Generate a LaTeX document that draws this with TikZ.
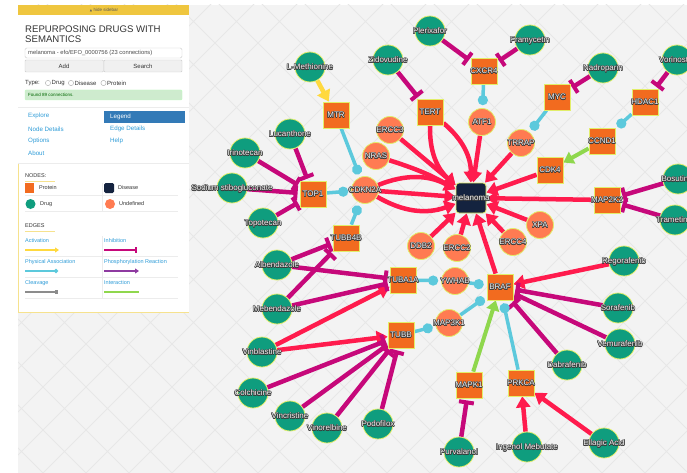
\documentclass[tikz,border=0pt]{standalone}
\usepackage{fontspec}
\setmainfont{Liberation Sans}
\newfontfamily\djv{DejaVu Sans}
\usetikzlibrary{arrows.meta}
\definecolor{protc}{HTML}{F26B1F}
\definecolor{drugc}{HTML}{0F9D7E}
\definecolor{undefc}{HTML}{FF7B52}
\definecolor{disc}{HTML}{14233F}
\definecolor{nodeedge}{HTML}{E2EE6A}
\definecolor{redc}{HTML}{FF1B4D}
\definecolor{magc}{HTML}{C6087A}
\definecolor{cyanc}{HTML}{5CC9DC}
\definecolor{greenc}{HTML}{8FD74D}
\definecolor{yelc}{HTML}{FFD93E}
\definecolor{purpc}{HTML}{8E3AA0}
\definecolor{bgc}{HTML}{F3F3F3}
\definecolor{gridc}{HTML}{E7E7E7}
\definecolor{haloc}{HTML}{3A3A3A}
\definecolor{labc}{HTML}{F4F4F4}
\definecolor{linkc}{HTML}{2E9CD8}
\definecolor{goldc}{HTML}{EFC63F}
\definecolor{sepc}{HTML}{ECECEC}
\definecolor{txtc}{HTML}{333333}
\definecolor{uline}{HTML}{F6E28E}
\newdimen\hlo \hlo=0.55pt
\newcommand\hlx[1]{\makebox[0pt]{\setbox0\hbox{#1}%
\rlap{\color{haloc}\kern-\hlo\copy0}%
\rlap{\color{haloc}\kern\hlo\copy0}%
\rlap{\color{haloc}\raise\hlo\copy0}%
\rlap{\color{haloc}\lower\hlo\copy0}%
\rlap{\color{haloc}\kern-.7\hlo\raise.7\hlo\copy0}%
\rlap{\color{haloc}\kern.7\hlo\raise.7\hlo\copy0}%
\rlap{\color{haloc}\kern-.7\hlo\lower.7\hlo\copy0}%
\rlap{\color{haloc}\kern.7\hlo\lower.7\hlo\copy0}%
{\color{labc}\box0}}}
\pgfdeclarelayer{bg}
\pgfdeclarelayer{edges}
\pgfsetlayers{bg,edges,main}
\begin{document}
\begin{tikzpicture}[x=1pt,y=-1pt,
 gnode/.style={draw=nodeedge,line width=0.8pt,inner sep=0pt,font=\fontsize{8}{9}\selectfont,text height=5.8pt,text depth=0pt},
 prot/.style={gnode,rectangle,fill=protc,minimum size=26pt},
 drug/.style={gnode,circle,fill=drugc,minimum size=30pt},
 undef/.style={gnode,circle,fill=undefc,minimum size=27pt},
 dis/.style={gnode,rectangle,rounded corners=3pt,fill=disc,minimum size=30pt},
 act/.style={draw=redc,line width=4.5pt,-{Triangle[width=14pt,length=11pt]}},
 inh/.style={draw=magc,line width=4.5pt,-{Bar[width=15pt,line width=4pt]},shorten >=2pt},
 phys/.style={draw=cyanc,line width=3.5pt,-{Circle[length=10pt]},shorten >=3pt},
 intr/.style={draw=greenc,line width=4pt,-{Triangle[width=13pt,length=10pt]}},
 yact/.style={draw=yelc,line width=4.5pt,-{Triangle[width=14pt,length=11pt]}},
 sb/.style={anchor=west,inner sep=0pt,font=\fontsize{6}{7}\selectfont,text=txtc},
 sbl/.style={sb,text=linkc,font=\fontsize{6.2}{7}\selectfont},
 lg/.style={anchor=west,inner sep=0pt,font=\fontsize{5.5}{6.5}\selectfont,text=txtc},
 lgl/.style={lg,text=linkc},
]
\useasboundingbox (0,0) rectangle (687,473);
\begin{pgfonlayer}{bg}
\fill[white] (0,0) rectangle (687,473);
\fill[bgc] (18,5) rectangle (687,473);
\begin{scope}
\clip (18,5) rectangle (687,473);
\foreach \c in {-516,-473,...,700} {\draw[gridc,line width=0.8pt] (\c,0) -- (\c+480,480);}
\foreach \c in {0,43,...,1200} {\draw[gridc,line width=0.8pt] (\c,0) -- (\c-480,480);}
\end{scope}
% sidebar
\fill[white] (18,5) rectangle (189,312);
\draw[uline,line width=0.8pt] (18.4,163) -- (18.4,312.4) -- (189,312.4);
\fill[goldc] (18,5) rectangle (189,15);
\node[inner sep=0pt,font=\fontsize{4.5}{5}\selectfont,text=black!65] (hide) at (104,10) {{\djv\fontsize{3}{4}\selectfont ▲} hide sidebar};
\node[sb,font=\fontsize{9.6}{10}\selectfont] (t1) at (25,29.5) {REPURPOSING DRUGS WITH};
\node[sb,font=\fontsize{9.6}{10}\selectfont] (t2) at (25,39.5) {SEMANTICS};
\draw[black!20,fill=white,rounded corners=1.5pt] (25,48) rectangle (182,58);
\node[sb,text=black!70,font=\fontsize{5.8}{6}\selectfont] (inp) at (28,53) {melanoma - efo/EFO\_0000756 (23 connections)};
\draw[black!20,fill=black!6,rounded corners=1pt] (25,60) rectangle (103.5,72);
\draw[black!20,fill=black!6,rounded corners=1pt] (104,60) rectangle (182,72);
\node[sb,anchor=center] (add) at (64,66) {Add};
\node[sb,anchor=center] (search) at (143,66) {Search};
\node[sb] (type) at (25,83) {Type:};
\draw[black!35,fill=white,line width=0.4pt] (48,83) circle (2.6);
\node[sb] (tdrug) at (51.5,83) {Drug};
\draw[black!35,fill=white,line width=0.4pt] (71,83) circle (2.6);
\node[sb] (tdis) at (74.5,83) {Disease};
\draw[black!35,fill=white,line width=0.4pt] (103.5,83) circle (2.6);
\node[sb] (tprot) at (107,83) {Protein};
\draw[fill=green!12!white!92!black,draw=green!25!white,rounded corners=1pt] (25,90) rectangle (182,100);
\node[sb,font=\fontsize{4.5}{5}\selectfont,text=green!40!black] (found) at (28,95) {Found 89 connections.};
\draw[sepc,line width=0.6pt] (18,107) -- (189,107);
\node[sbl] (m1) at (28,116) {Explore};
\node[sbl] (m2) at (28,129) {Node Details};
\node[sbl] (m3) at (28,141) {Options};
\node[sbl] (m4) at (28,153) {About};
\fill[blue!45!cyan!60!black!85!white] (104,111) rectangle (185,123);
\fill[fill={rgb,255:red,51;green,122;blue,183}] (104,111) rectangle (185,123);
\node[sbl,text=white] (m5) at (110,117) {Legend};
\node[sbl] (m6) at (110,129) {Edge Details};
\node[sbl] (m7) at (110,141) {Help};
\draw[sepc,line width=0.6pt] (18,163) -- (189,163);
% legend
\node[lg] (ln) at (25,176) {NODES:};
\draw[uline,line width=0.9pt] (25,181) -- (55,181);
\fill[protc] (25,183) rectangle (34,193);
\node[lg] (lp) at (39,188) {Protein};
\fill[disc,rounded corners=1.5pt] (104,183) rectangle (114,193);
\node[lg] (ld) at (118,188) {Disease};
\draw[sepc,line width=0.6pt] (25,195.5) -- (178,195.5) (25,211) -- (178,211) (102,183) -- (102,211);
\fill[drugc] (30.5,204) circle (5);
\node[lg] (ldr) at (40,204) {Drug};
\fill[undefc] (110,204) circle (5);
\node[lg] (lu) at (119,204) {Undefined};
\node[lg] (le) at (25,226) {EDGES};
\draw[uline,line width=0.9pt] (25,231) -- (55,231);
\node[lgl] (la) at (25,241) {Activation};
\draw[yelc,line width=1.6pt,-{Triangle[width=5pt,length=4pt]}] (25,250) -- (59,250);
\node[lgl] (li) at (104,241) {Inhibition};
\draw[magc,line width=1.6pt,-{Bar[width=6pt,line width=1.8pt]}] (104,250) -- (137,250);
\draw[sepc,line width=0.6pt] (25,256) -- (178,256) (25,277) -- (178,277) (25,298) -- (178,298) (102,236) -- (102,298);
\node[lgl] (lpa) at (25,262) {Physical Association};
\draw[cyanc,line width=1.6pt,-{Circle[length=4pt]}] (25,271) -- (58,271);
\node[lgl] (lph) at (104,262) {Phosphorylation Reaction};
\draw[purpc,line width=1.6pt,-{Triangle[width=5pt,length=4pt]}] (104,271) -- (139,271);
\node[lgl] (lc) at (25,283) {Cleavage};
\draw[black!45,line width=1.6pt,-{Square[length=3.5pt]}] (25,292) -- (58,292);
\node[lgl] (lin) at (104,283) {Interaction};
\draw[greenc,line width=1.6pt] (104,292) -- (139,292);
\end{pgfonlayer}

% graph nodes
\node[dis] (mel) at (471,198) {\hlx{melanoma}};
\node[prot] (mtr) at (336,115) {\hlx{MTR}};
\node[prot] (tert) at (430,112) {\hlx{TERT}};
\node[prot] (cxcr4) at (484,71) {\hlx{CXCR4}};
\node[prot] (myc) at (557,97) {\hlx{MYC}};
\node[prot] (hdac1) at (645,102) {\hlx{HDAC1}};
\node[prot] (ccnd1) at (602,141) {\hlx{CCND1}};
\node[prot] (cdk4) at (550,170) {\hlx{CDK4}};
\node[prot] (map2k2) at (607,200) {\hlx{MAP2K2}};
\node[prot] (top1) at (313,194) {\hlx{TOP1}};
\node[prot] (tubb4b) at (346,238) {\hlx{TUBB4B}};
\node[prot] (tuba1a) at (403,280) {\hlx{TUBA1A}};
\node[prot] (tubb) at (401,335) {\hlx{TUBB}};
\node[prot] (braf) at (500,287) {\hlx{BRAF}};
\node[prot] (mapk1) at (469,385) {\hlx{MAPK1}};
\node[prot] (prkca) at (521,383) {\hlx{PRKCA}};
\node[undef] (ercc3) at (390,130) {\hlx{ERCC3}};
\node[undef] (nras) at (376,156) {\hlx{NRAS}};
\node[undef] (atf1) at (482,122) {\hlx{ATF1}};
\node[undef] (trrap) at (521,143) {\hlx{TRRAP}};
\node[undef] (cdkn2a) at (365,190) {\hlx{CDKN2A}};
\node[undef] (ddb2) at (421,246) {\hlx{DDB2}};
\node[undef] (ercc2) at (457,248) {\hlx{ERCC2}};
\node[undef] (ercc4) at (513,242) {\hlx{ERCC4}};
\node[undef] (xpa) at (540,225) {\hlx{XPA}};
\node[undef] (ywhab) at (455,281) {\hlx{YWHAB}};
\node[undef] (map3k1) at (449,323) {\hlx{MAP3K1}};
\node[drug] (lmet) at (310,67) {\hlx{L-Methionine}};
\node[drug] (zido) at (388,60) {\hlx{Zidovudine}};
\node[drug] (pler) at (430,31) {\hlx{Plerixafor}};
\node[drug] (fram) at (530,40) {\hlx{Framycetin}};
\node[drug] (nadr) at (603,68) {\hlx{Nadroparin}};
\node[drug] (vori) at (677,60) {\hlx{Vorinostat}};
\node[drug] (luca) at (290,134) {\hlx{Lucanthone}};
\node[drug] (irin) at (245,153) {\hlx{Irinotecan}};
\node[drug] (sodi) at (232,188) {\hlx{Sodium stibogluconate}};
\node[drug] (topo) at (263,223) {\hlx{Topotecan}};
\node[drug] (albe) at (277,265) {\hlx{Albendazole}};
\node[drug] (mebe) at (277,309) {\hlx{Mebendazole}};
\node[drug] (vinb) at (262,352) {\hlx{Vinblastine}};
\node[drug] (colc) at (253,393) {\hlx{Colchicine}};
\node[drug] (vinc) at (290,416) {\hlx{Vincristine}};
\node[drug] (vino) at (327,428) {\hlx{Vinorelbine}};
\node[drug] (podo) at (378,424) {\hlx{Podofilox}};
\node[drug] (bosu) at (678,179) {\hlx{Bosutinib}};
\node[drug] (tram) at (675,220) {\hlx{Trametinib}};
\node[drug] (rego) at (624,261) {\hlx{Regorafenib}};
\node[drug] (sora) at (618,308) {\hlx{Sorafenib}};
\node[drug] (vemu) at (620,344) {\hlx{Vemurafenib}};
\node[drug] (dabr) at (567,365) {\hlx{Dabrafenib}};
\node[drug] (purv) at (459,452) {\hlx{Purvalanol}};
\node[drug] (inge) at (527,447) {\hlx{Ingenol Mebutate}};
\node[drug] (ella) at (604,443) {\hlx{Ellagic Acid}};

\begin{pgfonlayer}{edges}
% to melanoma
\draw[act] (tert) to[bend right=25] (mel);
\draw[act] (tert) to[bend left=25] (mel);
\draw[act] (ercc3) -- (mel);
\draw[act] (nras) to[bend left=6] (mel);
\draw[act] (cdkn2a) to[bend left=25] (mel);
\draw[act] (cdkn2a) -- (mel);
\draw[act] (cdkn2a) to[bend right=25] (mel);
\draw[act] (atf1) -- (mel);
\draw[act] (trrap) -- (mel);
\draw[act] (cdk4) -- (mel);
\draw[act] (map2k2) -- (mel);
\draw[act] (xpa) -- (mel);
\draw[act] (ercc4) -- (mel);
\draw[act] (braf) -- (mel);
\draw[act] (ercc2) -- (mel);
\draw[act] (ddb2) -- (mel);
% drug activations
\draw[yact] (lmet) -- (mtr);
\draw[act] (vinb) -- (tuba1a);
\draw[act] (vinb) -- (tubb);
\draw[act] (rego) -- (braf);
\draw[act] (inge) -- (prkca);
\draw[act] (ella) -- (prkca);
% inhibitions
\draw[inh] (zido) -- (tert);
\draw[inh] (pler) -- (cxcr4);
\draw[inh] (fram) -- (cxcr4);
\draw[inh] (nadr) -- (myc);
\draw[inh] (vori) -- (hdac1);
\draw[inh] (luca) -- (top1);
\draw[inh] (irin) -- (top1);
\draw[inh] (sodi) -- (top1);
\draw[inh] (topo) -- (top1);
\draw[inh] (albe) -- (tubb4b);
\draw[inh] (albe) -- (tuba1a);
\draw[inh] (mebe) -- (tubb4b);
\draw[inh] (mebe) -- (tuba1a);
\draw[inh] (colc) -- (tubb);
\draw[inh] (vinc) -- (tubb);
\draw[inh] (vino) -- (tubb);
\draw[inh] (podo) -- (tubb);
\draw[inh] (bosu) -- (map2k2);
\draw[inh] (tram) -- (map2k2);
\draw[inh] (sora) -- (braf);
\draw[inh] (vemu) -- (braf);
\draw[inh] (dabr) -- (braf);
\draw[inh] (purv) -- (mapk1);
% physical associations
\draw[phys] (cxcr4) -- (atf1);
\draw[phys] (myc) -- (trrap);
\draw[phys] (hdac1) -- (ccnd1);
\draw[phys] (mtr) -- (cdkn2a);
\draw[phys] (top1) -- (cdkn2a);
\draw[phys] (tubb4b) -- (cdkn2a);
\draw[phys] (tuba1a) -- (ywhab);
\draw[phys] (ywhab) -- (braf);
\draw[phys] (tubb) -- (map3k1);
\draw[phys] (map3k1) -- (braf);
\draw[phys] (prkca) -- (braf);
% interactions
\draw[intr] (ccnd1) -- (cdk4);
\draw[intr] (mapk1) -- (braf);
\end{pgfonlayer}
\end{tikzpicture}
\end{document}
